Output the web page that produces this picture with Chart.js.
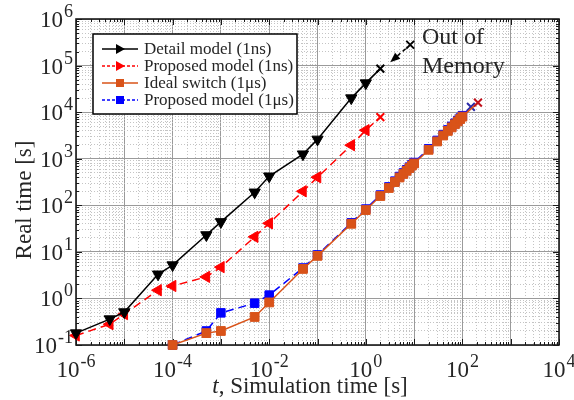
<!DOCTYPE html>
<html>
<head>
<meta charset="utf-8">
<script src="https://cdn.jsdelivr.net/npm/chart.js@4/dist/chart.umd.min.js"></script>
<style>
  body { margin: 0; background: #fff; }
  canvas { display: block; }
</style>
</head>
<body>
<canvas id="myChart" width="574" height="400"></canvas>
<script>
// simulation time [s] / real time [s]
const tDetail = [1e-6, 5e-6, 1e-5, 5e-5, 1e-4, 5e-4, 1e-3, 5e-3, 1e-2, 5e-2, 0.1, 0.5, 1, 2];
const rtDetail = [0.18, 0.36, 0.51, 3.3, 5.2, 23, 44, 190, 420, 1250, 2600, 20000, 42000, 86000];

const tProp1ns = [1e-6, 5e-6, 1e-5, 5e-5, 1e-4, 5e-4, 1e-3, 5e-3, 1e-2, 5e-2, 0.1, 0.5, 1, 2];
const rtProp1ns = [0.16, 0.28, 0.46, 1.5, 1.85, 2.9, 4.7, 21, 41, 200, 400, 1950, 4100, 7800];

const tIdeal = [1e-4, 5e-4, 1e-3, 5e-3, 1e-2, 5e-2, 0.1, 0.5, 1, 2, 3, 4, 5, 6, 7, 8, 9, 10,
  20, 30, 40, 50, 60, 70, 80, 90, 100, 210];
const rtIdeal = [0.1, 0.18, 0.2, 0.4, 0.82, 4.3, 8.2, 40, 79, 158, 235, 315, 395, 470, 550, 630, 710, 790,
  1550, 2350, 3150, 3950, 4700, 5500, 6300, 7100, 8000, 16000];

const tProp1us = [1e-4, 5e-4, 1e-3, 5e-3, 1e-2, 5e-2, 0.1, 0.5, 1, 2, 3, 4, 5, 6, 7, 8, 9, 10,
  20, 30, 40, 50, 60, 70, 80, 90, 100, 150];
const rtProp1us = [0.1, 0.2, 0.49, 0.79, 1.18, 4.5, 8.6, 42, 83, 166, 248, 330, 415, 495, 578, 660, 745, 830,
  1630, 2470, 3300, 4150, 4950, 5780, 6600, 7450, 8400, 13000];

// estimated point where the detail model runs out of memory
const tOom = [8.3];
const rtOom = [280000];

const seriesNames = ['Detail model (1ns)', 'Proposed model (1ns)', 'Ideal switch (1\u03bcs)', 'Proposed model (1\u03bcs)'];
const xDecades = [-6, -4, -2, 0, 2, 4];
const yDecades = [-1, 0, 1, 2, 3, 4, 5, 6];

const SERIF = '"Liberation Serif", "DejaVu Serif", serif';
Chart.defaults.font.family = SERIF;

const pts = (xs, ys) => xs.map((x, i) => ({ x: x, y: ys[i] }));
// last point of each run is drawn as an x
const lastAs = (n, normal, last) => Array.from({ length: n }, (_, i) => i === n - 1 ? last : normal);

const isMajor = v => Math.abs(Math.log10(v) - Math.round(Math.log10(v))) < 1e-9;

function logTicks(lo, hi) {
  const out = [];
  for (let e = lo; e < hi; e++) {
    for (let k = 1; k <= 9; k++) out.push({ value: Number(k + 'e' + e) });
  }
  out.push({ value: Number('1e' + hi) });
  return out;
}

const gridOpts = {
  drawTicks: false,
  color: c => (c.tick && !isMajor(c.tick.value)) ? '#c4c4c4' : '#9a9a9a',
  lineWidth: 1
};
const borderOpts = {
  display: false,
  dash: c => (c.tick && !isMajor(c.tick.value)) ? [1, 2] : []
};

const data = {
  datasets: [
    {
      label: seriesNames[0],
      data: pts(tDetail, rtDetail),
      borderColor: '#000',
      backgroundColor: '#000',
      borderWidth: 1.5,
      pointStyle: lastAs(tDetail.length, 'triangle', 'crossRot'),
      pointRotation: lastAs(tDetail.length, 180, 0),
      pointRadius: lastAs(tDetail.length, 6.5, 5.5),
      pointBorderWidth: lastAs(tDetail.length, 1, 2),
      pointBackgroundColor: '#000',
      pointBorderColor: '#000',
      clip: false
    },
    {
      label: seriesNames[1],
      data: pts(tProp1ns, rtProp1ns),
      borderColor: '#ff0000',
      backgroundColor: '#ff0000',
      borderWidth: 1.5,
      borderDash: [8, 5],
      pointStyle: lastAs(tProp1ns.length, 'triangle', 'crossRot'),
      pointRotation: lastAs(tProp1ns.length, 270, 0),
      pointRadius: lastAs(tProp1ns.length, 6.5, 5.5),
      pointBorderWidth: lastAs(tProp1ns.length, 1, 2),
      pointBackgroundColor: '#ff0000',
      pointBorderColor: '#ff0000',
      clip: false
    },
    {
      label: seriesNames[2],
      data: pts(tIdeal, rtIdeal),
      borderColor: '#d95319',
      backgroundColor: '#d95319',
      borderWidth: 1.5,
      pointStyle: lastAs(tIdeal.length, 'rect', 'crossRot'),
      pointRadius: lastAs(tIdeal.length, 6.2, 5.5),
      pointBorderWidth: lastAs(tIdeal.length, 1, 2),
      pointBackgroundColor: '#d95319',
      pointBorderColor: lastAs(tIdeal.length, '#d95319', '#c0101a'),
      clip: false
    },
    {
      label: seriesNames[3],
      data: pts(tProp1us, rtProp1us),
      borderColor: '#0000ff',
      backgroundColor: '#0000ff',
      borderWidth: 1.5,
      borderDash: [8, 5],
      pointStyle: lastAs(tProp1us.length, 'rect', 'crossRot'),
      pointRadius: lastAs(tProp1us.length, 6, 5.5),
      pointBorderWidth: lastAs(tProp1us.length, 1, 2),
      pointBackgroundColor: '#0000ff',
      pointBorderColor: lastAs(tProp1us.length, '#0000ff', '#2a2aa8'),
      clip: false
    },
    {
      label: 'Out of Memory',
      data: pts(tOom, rtOom),
      showLine: false,
      pointStyle: 'crossRot',
      pointRadius: 5.5,
      pointBorderWidth: 2,
      pointBorderColor: '#000',
      clip: false
    }
  ]
};

function drawPow(ctx, exp, x, y, align) {
  const base = '10', sup = String(exp);
  ctx.font = '23px ' + SERIF;
  const wb = ctx.measureText(base).width;
  ctx.font = '18px ' + SERIF;
  const ws = ctx.measureText(sup).width;
  const total = wb + ws + 1;
  const x0 = align === 'center' ? x - total / 2 : x - total;
  ctx.textAlign = 'left';
  ctx.textBaseline = 'alphabetic';
  ctx.font = '23px ' + SERIF;
  ctx.fillText(base, x0, y);
  ctx.font = '18px ' + SERIF;
  ctx.fillText(sup, x0 + wb + 1, y - 10);
}

function legendMarker(ctx, i, x, y) {
  const ds = data.datasets[i];
  ctx.save();
  ctx.fillStyle = ds.pointBackgroundColor;
  ctx.beginPath();
  if (i < 2) {
    ctx.moveTo(x + 5, y);
    ctx.lineTo(x - 4, y - 5);
    ctx.lineTo(x - 4, y + 5);
  } else {
    ctx.rect(x - 4, y - 4, 8, 8);
  }
  ctx.closePath();
  ctx.fill();
  ctx.restore();
}

const framePlugin = {
  id: 'frame',
  beforeDatasetsDraw(chart) {
    const { ctx, chartArea: a, scales } = chart;
    ctx.save();
    ctx.strokeStyle = '#1a1a1a';
    ctx.lineWidth = 1;
    // inward ticks on all four sides
    ctx.beginPath();
    scales.x.ticks.forEach(t => {
      const px = Math.round(scales.x.getPixelForValue(t.value)) + 0.5;
      const len = isMajor(t.value) ? 6 : 3;
      ctx.moveTo(px, a.bottom); ctx.lineTo(px, a.bottom - len);
      ctx.moveTo(px, a.top); ctx.lineTo(px, a.top + len);
    });
    scales.y.ticks.forEach(t => {
      const py = Math.round(scales.y.getPixelForValue(t.value)) + 0.5;
      const len = isMajor(t.value) ? 6 : 3;
      ctx.moveTo(a.left, py); ctx.lineTo(a.left + len, py);
      ctx.moveTo(a.right, py); ctx.lineTo(a.right - len, py);
    });
    ctx.stroke();
    ctx.lineWidth = 1.6;
    ctx.strokeRect(a.left, a.top, a.right - a.left, a.bottom - a.top);
    ctx.restore();
  },
  afterDatasetsDraw(chart) {
    const { ctx, scales } = chart;
    // dashed arrow from the out-of-memory mark
    const x0 = scales.x.getPixelForValue(tOom[0]), y0 = scales.y.getPixelForValue(rtOom[0]);
    const x1 = scales.x.getPixelForValue(3.2), y1 = scales.y.getPixelForValue(118000);
    const ang = Math.atan2(y1 - y0, x1 - x0);
    const c = Math.cos(ang), s = Math.sin(ang);
    ctx.save();
    ctx.strokeStyle = '#000';
    ctx.fillStyle = '#000';
    ctx.lineWidth = 1.5;
    ctx.setLineDash([4, 3]);
    ctx.beginPath();
    ctx.moveTo(x0 + 6 * c, y0 + 6 * s);
    ctx.lineTo(x1 - 8 * c, y1 - 8 * s);
    ctx.stroke();
    ctx.setLineDash([]);
    ctx.beginPath();
    ctx.moveTo(x1, y1);
    ctx.lineTo(x1 - 10 * c + 4 * s, y1 - 10 * s - 4 * c);
    ctx.lineTo(x1 - 10 * c - 4 * s, y1 - 10 * s + 4 * c);
    ctx.closePath();
    ctx.fill();
    ctx.restore();
  },
  afterDraw(chart) {
    const { ctx, chartArea: a, scales } = chart;
    ctx.save();
    ctx.fillStyle = '#262626';
    xDecades.forEach(e => {
      drawPow(ctx, e, scales.x.getPixelForValue(Math.pow(10, e)), a.bottom + 32, 'center');
    });
    yDecades.forEach(e => {
      drawPow(ctx, e, a.left - 3, scales.y.getPixelForValue(Math.pow(10, e)) + 8, 'right');
    });

    // axis titles
    ctx.textBaseline = 'alphabetic';
    ctx.font = 'italic 23px ' + SERIF;
    const tPart = 't';
    const rest = ', Simulation time [s]';
    const wT = ctx.measureText(tPart).width;
    ctx.font = '23px ' + SERIF;
    const wR = ctx.measureText(rest).width;
    const xs = 310 - (wT + wR) / 2;
    ctx.textAlign = 'left';
    ctx.font = 'italic 23px ' + SERIF;
    ctx.fillText(tPart, xs, 393);
    ctx.font = '23px ' + SERIF;
    ctx.fillText(rest, xs + wT, 393);

    ctx.save();
    ctx.translate(31, 200);
    ctx.rotate(-Math.PI / 2);
    ctx.textAlign = 'center';
    ctx.fillText('Real time [s]', 0, 0);
    ctx.restore();

    // note
    ctx.font = '24px ' + SERIF;
    ctx.textAlign = 'left';
    ctx.fillText('Out of', 422, 44);
    ctx.fillText('Memory', 422, 73);

    // legend
    const lx = 93, ly = 34, lw = 204, lh = 80;
    ctx.fillStyle = '#fff';
    ctx.fillRect(lx, ly, lw, lh);
    ctx.strokeStyle = '#000';
    ctx.lineWidth = 1.5;
    ctx.strokeRect(lx, ly, lw, lh);
    const rows = [49, 66, 83, 100];
    const dashes = [[], [3, 2], [], [3, 2]];
    const lineCols = ['#000', '#ff0000', '#d95319', '#0000ff'];
    rows.forEach((ry, i) => {
      ctx.strokeStyle = lineCols[i];
      ctx.lineWidth = 1.5;
      ctx.setLineDash(dashes[i]);
      ctx.beginPath();
      ctx.moveTo(102, ry);
      ctx.lineTo(138, ry);
      ctx.stroke();
      ctx.setLineDash([]);
      legendMarker(ctx, i, 120, ry);
      ctx.fillStyle = '#262626';
      ctx.font = '17px ' + SERIF;
      ctx.textAlign = 'left';
      ctx.fillText(seriesNames[i], 144, ry + 5);
    });
    ctx.restore();
  }
};

const options = {
  responsive: false,
  animation: false,
  layout: { padding: { left: 0, top: 19, right: 15, bottom: 0 } },
  plugins: {
    legend: { display: false },
    tooltip: { enabled: false }
  },
  scales: {
    x: {
      type: 'logarithmic',
      min: 1e-6,
      max: 1e4,
      afterBuildTicks: s => { s.ticks = logTicks(-6, 4); },
      afterFit: s => { s.height = 55; },
      ticks: { display: false },
      grid: gridOpts,
      border: borderOpts
    },
    y: {
      type: 'logarithmic',
      min: 0.1,
      max: 1e6,
      afterBuildTicks: s => { s.ticks = logTicks(-1, 6); },
      afterFit: s => { s.width = 76; },
      ticks: { display: false },
      grid: gridOpts,
      border: borderOpts
    }
  }
};

const ctx = document.getElementById('myChart').getContext('2d');
new Chart(ctx, {
  type: 'line',
  data: data,
  options: options,
  plugins: [framePlugin]
});
</script>
</body>
</html>
